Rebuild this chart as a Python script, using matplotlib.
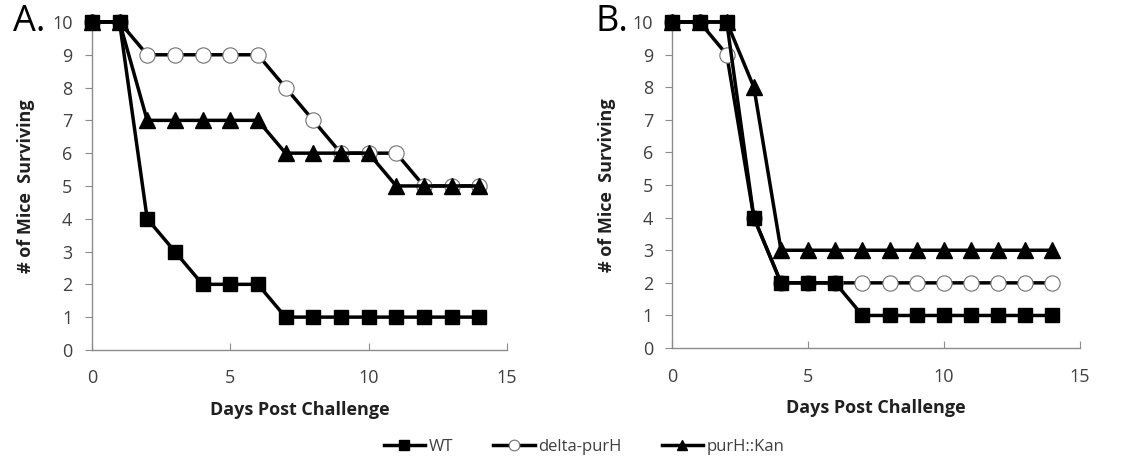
import matplotlib.pyplot as plt

days = list(range(15))

a_wt = [10, 10, 4, 3, 2, 2, 2, 1, 1, 1, 1, 1, 1, 1, 1]
a_delta = [10, 10, 9, 9, 9, 9, 9, 8, 7, 6, 6, 6, 5, 5, 5]
a_kan = [10, 10, 7, 7, 7, 7, 7, 6, 6, 6, 6, 5, 5, 5, 5]

b_wt = [10, 10, 10, 4, 2, 2, 2, 1, 1, 1, 1, 1, 1, 1, 1]
b_delta = [10, 10, 9, 4, 2, 2, 2, 2, 2, 2, 2, 2, 2, 2, 2]
b_kan = [10, 10, 10, 8, 3, 3, 3, 3, 3, 3, 3, 3, 3, 3, 3]

labels = ['WT', 'delta-purH', 'purH::Kan']

plt.rcParams['font.family'] = ['Open Sans', 'DejaVu Sans']

fig = plt.figure(figsize=(11.34, 4.58), dpi=100)
ax_a = fig.add_axes([0.081, 0.236, 0.366, 0.716])
ax_b = fig.add_axes([0.593, 0.240, 0.359, 0.712])

grey = '#8c8c8c'


def draw(ax, wt, delta, kan, letter):
    h_wt, = ax.plot(days, wt, color='black', lw=2.5, marker='s', ms=10,
                    mfc='black', mec='black', clip_on=False, zorder=3)
    h_delta, = ax.plot(days, delta, color='black', lw=2.5, marker='o', ms=11,
                       mfc='white', mec='#707070', mew=0.8, clip_on=False, zorder=2)
    h_kan, = ax.plot(days, kan, color='black', lw=2.5, marker='^', ms=11,
                     mfc='black', mec='black', clip_on=False, zorder=4)
    ax.set_xlim(0, 15)
    ax.set_ylim(0, 10)
    ax.set_xticks([0, 5, 10, 15])
    ax.set_yticks(range(11))
    for s in ['top', 'right']:
        ax.spines[s].set_visible(False)
    for s in ['left', 'bottom']:
        ax.spines[s].set_color(grey)
        ax.spines[s].set_linewidth(1)
    ax.tick_params(colors=grey, labelcolor='#404040', labelsize=13, length=5)
    ax.tick_params(axis='x', direction='in', pad=14)
    ax.tick_params(axis='y', direction='out', pad=9)
    ax.set_xlabel('Days Post Challenge', fontsize=13, fontweight='bold',
                  color='#202020', labelpad=10)
    ax.set_ylabel('# of Mice  Surviving', fontsize=13, fontweight='bold',
                  color='#202020', labelpad=12)
    ax.text(-0.19, 1.0, letter, transform=ax.transAxes, fontsize=26,
            ha='left', va='center', color='black')
    return [h_wt, h_delta, h_kan]


handles = draw(ax_a, a_wt, a_delta, a_kan, 'A.')
draw(ax_b, b_wt, b_delta, b_kan, 'B.')

fig.legend(handles, labels, loc='center', bbox_to_anchor=(0.515, 0.024), ncol=3,
           frameon=False, fontsize=12, markerscale=0.7, handlelength=2.5,
           handletextpad=0.2, columnspacing=2.4, labelcolor='#404040')

fig.savefig('out.png', dpi=100)
